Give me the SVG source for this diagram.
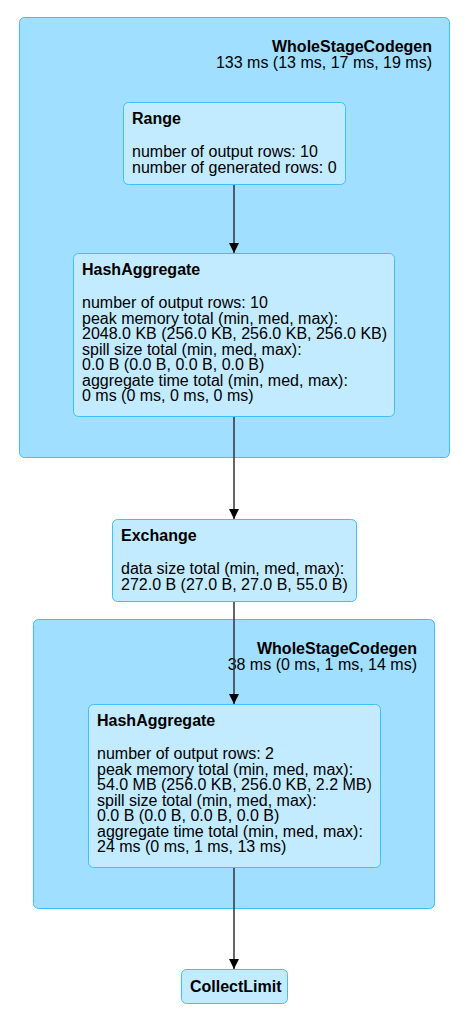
<svg xmlns="http://www.w3.org/2000/svg" width="467" height="1024" viewBox="0 0 467 1024">
<defs>
<style>
.cluster{fill:#A0DFFF;stroke:#3EC0FF;stroke-width:1}
.node{fill:#C3EBFF;stroke:#3EC0FF;stroke-width:1}
text{font-family:"Liberation Sans",Arial,sans-serif;font-size:16px;fill:#000}
.b{font-weight:bold}
.edge{stroke:#333;stroke-width:1.5;fill:none}
</style>
<marker id="arrow" viewBox="0 0 10 10" refX="10" refY="5" markerWidth="10" markerHeight="11" markerUnits="userSpaceOnUse" orient="auto">
<path d="M0,0 L10,5 L0,10 z" fill="#000"/>
</marker>
</defs>
<rect width="467" height="1024" fill="#fff"/>
<g id="cluster1">
<rect class="cluster" x="19.5" y="17.5" width="430" height="440" rx="5"/>
<text class="b" x="432" y="52" text-anchor="end">WholeStageCodegen</text>
<text x="432" y="67.5" text-anchor="end">133 ms (13 ms, 17 ms, 19 ms)</text>
</g>
<g id="cluster2">
<rect class="cluster" x="33.5" y="619.5" width="401" height="289" rx="5"/>
<text class="b" x="417" y="654" text-anchor="end">WholeStageCodegen</text>
<text x="417" y="669.5" text-anchor="end">38 ms (0 ms, 1 ms, 14 ms)</text>
</g>
<g id="range">
<rect class="node" x="123.5" y="102.5" width="222" height="82" rx="5"/>
<text class="b" x="132" y="124">Range</text>
<text x="132" y="157">number of output rows: 10</text>
<text x="132" y="172.5">number of generated rows: 0</text>
</g>
<g id="hashagg1">
<rect class="node" x="73.5" y="253.5" width="321" height="163" rx="5"/>
<text class="b" x="82" y="275">HashAggregate</text>
<text x="82" y="308">number of output rows: 10</text>
<text x="82" y="323.5">peak memory total (min, med, max):</text>
<text x="82" y="339">2048.0 KB (256.0 KB, 256.0 KB, 256.0 KB)</text>
<text x="82" y="354.5">spill size total (min, med, max):</text>
<text x="82" y="370">0.0 B (0.0 B, 0.0 B, 0.0 B)</text>
<text x="82" y="385.5">aggregate time total (min, med, max):</text>
<text x="82" y="401">0 ms (0 ms, 0 ms, 0 ms)</text>
</g>
<g id="exchange">
<rect class="node" x="112.5" y="519.5" width="244" height="82" rx="5"/>
<text class="b" x="121" y="541">Exchange</text>
<text x="121" y="574">data size total (min, med, max):</text>
<text x="121" y="589.5">272.0 B (27.0 B, 27.0 B, 55.0 B)</text>
</g>
<g id="hashagg2">
<rect class="node" x="88.5" y="704.5" width="292" height="163" rx="5"/>
<text class="b" x="97" y="726">HashAggregate</text>
<text x="97" y="759">number of output rows: 2</text>
<text x="97" y="774.5">peak memory total (min, med, max):</text>
<text x="97" y="790">54.0 MB (256.0 KB, 256.0 KB, 2.2 MB)</text>
<text x="97" y="805.5">spill size total (min, med, max):</text>
<text x="97" y="821">0.0 B (0.0 B, 0.0 B, 0.0 B)</text>
<text x="97" y="836.5">aggregate time total (min, med, max):</text>
<text x="97" y="852">24 ms (0 ms, 1 ms, 13 ms)</text>
</g>
<g id="collectlimit">
<rect class="node" x="181.5" y="969.5" width="106" height="34" rx="5"/>
<text class="b" x="190" y="992">CollectLimit</text>
</g>
<g id="edges">
<line class="edge" x1="234" y1="185" x2="234" y2="253" marker-end="url(#arrow)"/>
<line class="edge" x1="234" y1="417" x2="234" y2="519" marker-end="url(#arrow)"/>
<line class="edge" x1="234" y1="602" x2="234" y2="704" marker-end="url(#arrow)"/>
<line class="edge" x1="234" y1="868" x2="234" y2="969" marker-end="url(#arrow)"/>
</g>
</svg>
